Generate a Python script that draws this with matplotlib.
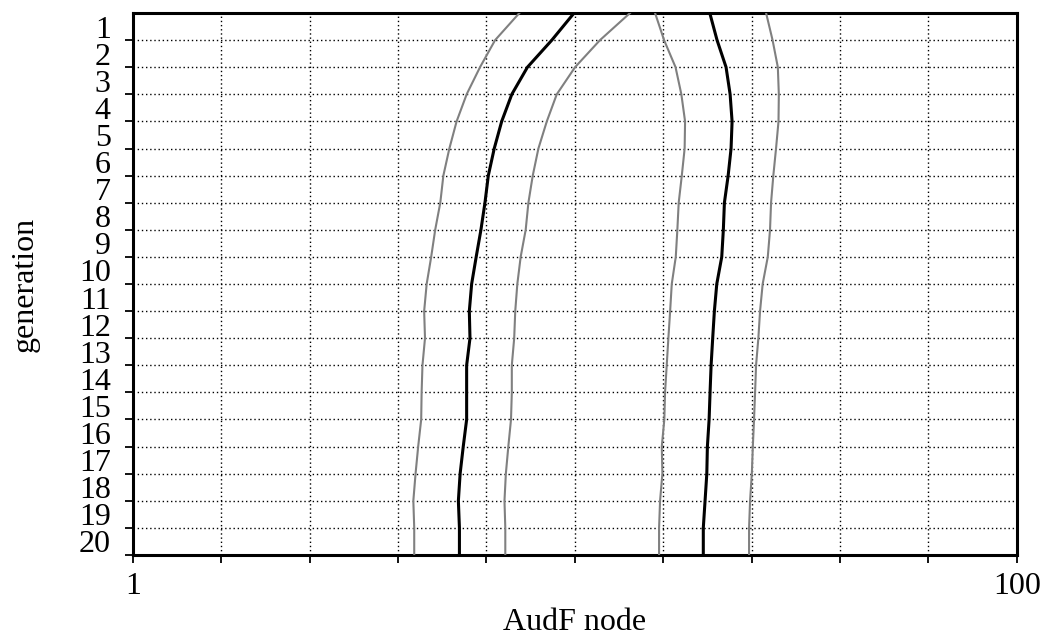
import numpy as np
import matplotlib
matplotlib.use("Agg")
from matplotlib import pyplot as plt
from matplotlib.ticker import FixedLocator, NullLocator, FixedFormatter

plt.rcParams['font.family'] = ['Liberation Serif', 'DejaVu Serif']

# generation 0..20 (0 = top edge of the plot)
generation = list(range(0, 21))

# outer gray band, left side
gray_left_lo = [7.49, 6.60, 6.10, 5.69, 5.40, 5.20, 5.04, 4.96, 4.83, 4.73, 4.62,
                4.56, 4.58, 4.52, 4.50, 4.49, 4.42, 4.36, 4.31, 4.33, 4.33]
black_left = [9.96, 8.87, 7.81, 7.20, 6.83, 6.57, 6.37, 6.26, 6.13, 5.98, 5.84,
              5.77, 5.79, 5.69, 5.69, 5.69, 5.59, 5.50, 5.45, 5.48, 5.48]
gray_left_hi = [13.33, 11.40, 10.01, 9.10, 8.64, 8.27, 8.03, 7.85, 7.74, 7.54, 7.41,
                7.33, 7.29, 7.20, 7.20, 7.17, 7.07, 6.98, 6.93, 6.96, 6.96]

gray_right_lo = [15.19, 15.92, 16.90, 17.42, 17.76, 17.72, 17.46, 17.18, 17.06, 16.92, 16.57,
                 16.43, 16.28, 16.14, 16.00, 15.94, 15.73, 15.78, 15.59, 15.51, 15.51]
black_right = [20.20, 20.98, 21.99, 22.46, 22.69, 22.57, 22.23, 21.80, 21.68, 21.50, 20.95,
               20.69, 20.51, 20.34, 20.23, 20.13, 19.95, 19.89, 19.71, 19.53, 19.53]
gray_right_hi = [27.09, 28.02, 28.80, 28.95, 28.90, 28.53, 28.13, 27.80, 27.65, 27.33, 26.61,
                 26.25, 26.02, 25.71, 25.58, 25.44, 25.28, 25.15, 24.92, 24.79, 24.79]

ytick_labels = [str(i) for i in range(1, 21)]

fig = plt.figure(figsize=(10.43, 6.35), dpi=100)
ax = fig.add_axes([0.1275, 0.126, 0.8473, 0.8535])

gray = '#808080'
for xs in [gray_left_lo, gray_left_hi, gray_right_lo, gray_right_hi]:
    ax.plot(xs, generation, color=gray, lw=1.5, zorder=3)
for xs in [black_left, black_right]:
    ax.plot(xs, generation, color='black', lw=2.2, zorder=4)

ax.set_xscale('log')
ax.set_xlim(1, 100)
ax.set_ylim(20, 0)

# x ticks every 0.2 decade, only ends labelled
xt = 10 ** np.arange(0, 2.01, 0.2)
ax.xaxis.set_major_locator(FixedLocator(xt))
ax.xaxis.set_major_formatter(FixedFormatter(['1'] + [''] * 9 + ['100']))
ax.xaxis.set_minor_locator(NullLocator())

# y ticks on gridlines, labels in the cells above them
ax.set_yticks(range(1, 21))
ax.set_yticklabels([])
ax.set_yticks([i - 0.5 for i in range(1, 21)], minor=True)
ax.set_yticklabels(ytick_labels, minor=True)

ax.tick_params(axis='both', which='major', direction='out', length=6, width=1.3,
               labelsize=23, color='black')
ax.tick_params(axis='x', which='major', pad=6)
ax.tick_params(axis='y', which='minor', length=0, pad=16, labelsize=23)

ax.grid(True, which='major', color='black', lw=1.0, linestyle=(0, (1, 2)))
ax.set_axisbelow(True)
for s in ax.spines.values():
    s.set_linewidth(2.2)

ax.set_xlabel('AudF node', fontsize=23, labelpad=5)
ax.set_ylabel('generation', fontsize=23, labelpad=28)

plt.savefig('out.png', dpi=100)
